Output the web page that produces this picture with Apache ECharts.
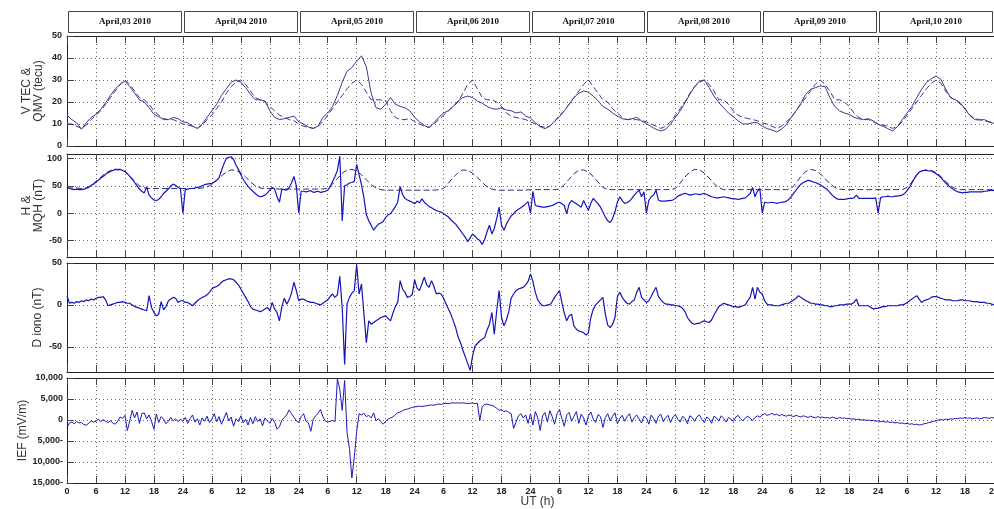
<!DOCTYPE html>
<html><head><meta charset="utf-8">
<script src="https://cdn.jsdelivr.net/npm/echarts@6/dist/echarts.min.js"></script>
<style>html,body{margin:0;padding:0;background:#fff}#c{width:994px;height:509px}</style>
</head><body><div id="c"></div>
<script>
// ---------- DATA ----------
const dayLabels = ['April,03 2010','April,04 2010','April,05 2010','April,06 2010','April,07 2010','April,08 2010','April,09 2010','April,10 2010'];
const tecTicks = [0,10,20,30,40,50];
const hTicks = [-50,0,50,100];
const dTicks = [-50,0,50];
const iefTicks = [-15000,-10000,-5000,0,5000,10000];

// hourly samples (h = 0..192)
const vtec = [
 14,12,10.5,7.6,10.6,13,14.4,16.7,19.7,23,26,28,29.5,27,24,21,20,17.4,14.4,13.3,12,12,13,12.4,
 11,10.6,9,8,10,13,16,19,23,26,29,30,29,26.5,23.5,21,21,20.5,16,13,12,12.4,13,13.6,
 11,10,8.6,8,9,13,15,18,23,29,34,35.6,38.6,41,36,24,17.4,16.7,19,22,19,18,17.4,16,
 13,11,9.4,8.3,10.6,13,15,16,18,20.5,22,22.7,22,20.5,19.4,18,17,16.7,17.4,16.4,16,15,15.5,13.6,
 12.7,10.6,8.8,7.9,9,11.4,13.3,16,19,22,24,25,24.5,22.7,20.5,18,16.7,15,13.6,12.4,12,12.4,13,11.4,
 10.2,8.8,7.6,6.8,7.6,10,13,16,19.7,23.5,27,29.5,30,26.5,22.7,19.7,17.4,15,13.3,11.4,10,10,10.6,10.6,
 9,7.9,7.3,6.4,7.6,9.8,12.9,16,19.4,23.5,25.8,26.5,27.3,27,22,18,16,15,14.4,13,12.4,12,12.4,11.4,
 9.8,9,7.9,6.8,8.8,12,15,18,22,25.8,28.8,30.6,31.8,30.3,25.8,22,21,19.7,16.7,13.9,12,11.8,12,10.9,
 10.3];
const qmv = [
 10,10,9,8,9.5,12,14,16,19,22,25,28,30,28,25,22,21,19,16,14,12.5,12,12,11,
 10,9.5,9,8,9.5,12,14,17,20,24,27,29,30,28,25,22,21,20,18,16,14,13,12,11.5,
 10,9,8.5,8,9,11,14,17,20,23,26,28.5,30,28,24.5,21,21,21,20.5,16,13,12,12,12.5,
 11,10,9,8.5,10,12,14,16,18,20,24,28,30,26,22,21,21,20,18,15,13.5,13,12.5,12,
 11,10,9,8.5,9,11,14,16,19,22,25,28,30,27,24,21,20,17,15,13,12,12,12,11.5,
 11,10,9,8,9,11,14,17,20,24,27,29,30,28,25,21,21,19,16,14,13,12.5,12,11.5,
 10.5,10,9,8,9,11,13,16,19,22,25,28,30,28,25,21,21,20,18,15,13,12,12,11,
 10,9.5,9,8,9,11,14,17,20,23,26,28.5,30,28.5,25,22,21,19,17,14,12.5,12,11.5,11,
 11];
const mqh = [
 46,46,46,45,46,50,58,66,73,78,80,80,76,68,58,50,46,45,45,45,45,45,45,45,
 45,45,45,45,46,48,52,60,68,75,79,78,74,66,57,50,46,45,45,45,44,44,44,44,
 44,44,44,44,44,44,46,53,63,73,79,80,77,70,61,52,46,43,42,42,42,42,42,42,
 42,42,42,42,42,43,45,55,65,74,79,78,73,65,56,48,44,42,42,42,42,42,42,42,
 43,43,43,43,43,43,44,52,62,72,78,79,75,67,57,47,43,43,43,43,43,43,43,43,
 43,43,43,43,43,43,45,55,66,75,80,79,73,64,54,46,43,43,43,43,43,43,43,43,
 43,43,43,43,43,43,45,55,67,76,80,78,72,63,54,47,44,43,43,43,43,43,43,43,
 43,43,43,43,43,43,47,57,70,77,79,78,74,67,58,50,45,43,43,43,43,43,43,43,
 43];

// half-hourly samples (h = 0, 0.5, ... 192)
const hComp = [
 48,45,44,43,44,43,43,44,45,47,51,53,57,60,64,67,71,74,76,78,80,79,80,78,76,72,67,62,56,50,44,40,37,48,33,28,24,23,25,30,36,40,44,50,53,51,47,45,
 0,43,44,45,45,46,47,48,50,52,53,54,54,57,60,65,78,90,100,102,103,98,88,80,70,62,55,49,44,40,36,32,30,31,33,37,42,47,44,30,20,44,43,42,47,55,67,50,
 0,40,40,39,40,41,38,39,40,38,39,40,42,48,58,67,78,104,-14,50,52,55,56,58,89,70,52,28,-3,-14,-22,-31,-25,-20,-18,-15,-8,-3,-1,5,12,20,49,34,27,24,22,20,
 17,22,19,26,20,16,12,10,7,5,3,2,-1,-4,-7,-12,-16,-20,-26,-32,-38,-44,-52,-45,-38,-42,-47,-50,-57,-48,-34,-22,-38,-28,-10,11,-22,-31,-20,-12,-5,-1,4,7,10,13,17,21,
 0,40,14,13,12,11,11,12,13,14,16,19,20,17,14,-1,17,23,20,17,14,11,23,14,5,18,27,22,17,11,2,-7,-14,-17,-10,3,20,30,23,18,19,22,27,33,38,42,30,39,
 0,23,30,33,42,24,22,22,22,23,23,24,27,31,33,35,36,35,33,34,35,35,34,35,36,34,32,30,29,28,28,29,30,29,28,27,26,26,25,26,27,28,32,36,47,30,40,45,
 0,20,19,19,20,19,18,19,20,20,22,25,30,36,42,48,53,56,58,60,59,57,56,54,52,49,46,43,38,33,29,26,25,25,25,26,27,27,28,33,27,27,27,27,27,27,27,28,
 0,28,30,30,31,30,30,31,31,32,33,36,41,47,55,63,70,75,77,78,78,77,77,75,72,69,65,60,55,51,47,44,41,39,38,37,38,38,39,39,39,39,39,39,40,40,41,42,
 41];
const dIono = [
 11,2,3,2,4,3,5,4,6,5,7,6,8,9,9,10,6,-1,0,1,2,3,3,4,3,2,2,0,-2,-3,-4,-5,-6,-7,11,-3,-9,-13,-11,4,-6,-2,5,7,9,8,3,5,
 5,3,3,1,-1,2,5,7,9,10,12,15,19,21,22,24,27,29,30,31,31,30,27,24,19,14,9,4,-2,-5,-6,-7,-8,-7,-5,-3,-7,3,-5,-9,-19,-2,8,1,6,14,27,17,
 5,7,7,5,4,3,3,2,1,0,2,4,6,10,13,9,12,34,-3,-71,1,9,14,17,48,13,25,-11,-45,-19,-23,-21,-19,-17,-15,-14,-13,-16,-19,-10,-2,3,29,19,15,9,10,12,
 30,20,17,25,33,24,21,29,22,13,14,13,8,1,-5,-11,-19,-27,-38,-45,-54,-62,-70,-78,-61,-49,-46,-43,-41,-39,-30,-23,-9,-35,-7,17,-15,-25,-18,-8,8,13,17,19,20,21,24,28,
 37,28,15,6,2,-1,-1,0,0,4,9,13,17,3,-10,-19,-13,-11,-25,-29,-31,-32,-33,-36,-33,-15,-5,0,3,6,9,-11,-24,-27,-23,-15,10,15,9,5,2,1,4,6,15,21,9,6,
 3,5,10,16,21,10,6,3,1,1,0,0,-1,-1,-2,-4,-8,-15,-19,-22,-23,-22,-22,-20,-19,-20,-21,-18,-12,-7,-2,0,2,1,0,-1,-2,-2,-3,-2,-1,0,5,9,21,7,21,15,
 13,5,1,0,0,-1,-1,-1,0,1,2,2,4,6,8,11,9,7,5,4,2,2,1,1,0,0,-1,-1,-2,-2,-1,-1,0,0,0,1,1,1,3,7,-1,-1,-1,-1,-1,-3,-5,-4,
 -4,-3,-2,-2,-1,-1,-1,-1,-1,0,0,1,3,5,7,9,11,7,3,5,6,7,9,10,10,9,8,7,6,6,6,5,5,5,6,6,5,5,5,4,4,4,3,3,3,2,2,1,
 0];
const ief = [
 -1800,-700,-500,-900,-400,-700,-600,-1100,-1200,-800,-200,-500,-300,200,-400,100,-300,-600,-200,-700,-1000,-300,700,400,1100,-2500,-200,2300,500,1900,-800,1500,1700,300,1200,-300,-2200,1400,-600,800,200,-900,-300,600,-200,300,-400,200,
 -300,600,-800,400,1200,-500,300,-1200,500,-300,900,-600,200,1500,-400,800,-1000,400,1800,-200,700,-1500,300,-400,1000,-700,200,-1200,600,-900,800,-400,300,-1400,500,-200,-800,400,-500,-2200,-1600,-100,600,1200,2400,1500,650,-200,
 -600,800,1500,-300,-700,-2700,200,1000,1600,2500,800,-200,-500,-300,-100,-400,9800,7300,2300,9400,-3000,-6800,-13800,-8900,-2700,1500,1200,1600,800,1100,500,1700,-200,300,-400,-1000,-300,200,500,700,1300,1700,1900,2200,2500,2600,2800,3000,
 3100,3200,3300,3200,3300,3400,3500,3600,3500,3700,3800,3700,3900,4000,3900,4000,4100,4000,4100,4000,4100,4000,3900,4000,4000,3900,4000,-100,3200,3700,3800,3600,3500,3200,2800,2300,2500,2000,2200,1800,1500,-2000,-500,1000,1500,500,1200,-800,
 1500,-1200,2000,500,-2500,1000,1800,-500,2200,800,-1000,1500,2500,300,-1500,1200,1800,-300,900,2000,-800,1400,500,-1200,1000,1900,200,-600,1300,800,-1800,600,1500,-200,900,1700,-900,400,1100,-300,800,1500,-500,600,1200,200,-700,900,
 500,-1000,1200,300,-800,900,1400,-400,600,1100,-600,700,1300,200,-500,900,400,-900,1000,600,-300,800,1200,100,-600,700,300,-800,900,500,-200,1000,400,-500,600,200,-300,700,1100,300,-200,500,900,400,-100,600,1000,700,
 1200,1500,1100,1300,1600,1200,1400,1000,1300,1100,900,1200,1000,800,1100,900,700,1000,800,600,900,700,500,800,600,700,500,600,400,700,500,300,600,400,500,300,400,200,300,100,200,0,100,-100,0,-200,-100,-300,
 -200,-400,-300,-500,-400,-600,-500,-700,-600,-800,-700,-900,-800,-1000,-900,-1100,-1000,-1200,-1100,-900,-800,-600,-500,-300,-200,0,100,0,200,100,300,200,400,300,500,400,600,400,500,300,400,500,300,400,600,500,400,600,
 500];

// ---------- CHART ----------
const hourlyPts = a => a.map((v, i) => [i, v]);
const halfPts = a => a.map((v, i) => [i / 2, v]);

const L = 67, R = 0;
const panels = [
  {top: 36, height: 110},
  {top: 154, height: 103},
  {top: 263, height: 109},
  {top: 378, height: 105}
];
const tickFont = {fontSize: 9, fontWeight: 'bold', fontFamily: 'Liberation Sans', color: '#222'};
const nameFont = {fontSize: 12, fontFamily: 'Liberation Sans', color: '#333', lineHeight: 12};
const gridLine = {show: true, lineStyle: {color: '#666', type: [1, 3], width: 1}};
const axisLineStyle = {show: true, onZero: false, lineStyle: {color: '#222', width: 1}};
const tickStyle = {show: true, inside: true, length: 7, lineStyle: {color: '#444', width: 1}};

const xLabel = v => v === 0 ? '0' : (v % 24 === 0 ? '24' : String(v % 24));

const grids = [{left: L, right: R, top: 11, height: 22, outerBoundsMode: 'none'}]
  .concat(panels.map(p => ({left: L, right: R, top: p.top, height: p.height, outerBoundsMode: 'none'})));

const xAxes = [{gridIndex: 0, type: 'value', min: 0, max: 192, show: false}];
for (let i = 1; i <= 4; i++) {
  xAxes.push({
    gridIndex: i, type: 'value', min: 0, max: 192, interval: 6, position: 'bottom',
    axisLine: axisLineStyle, axisTick: tickStyle, splitLine: gridLine,
    axisLabel: i === 4 ? Object.assign({show: true, margin: 4, formatter: xLabel, showMaxLabel: true}, tickFont) : {show: false},
    name: i === 4 ? 'UT (h)' : '', nameLocation: 'middle', nameGap: 13, nameMoveOverlap: false,
    nameTextStyle: Object.assign({}, nameFont, {padding: [0, 0, 0, 14]})
  });
}
for (let i = 1; i <= 4; i++) {
  xAxes.push({
    gridIndex: i, type: 'value', min: 0, max: 192, interval: 6, position: 'top',
    axisLine: axisLineStyle, axisTick: tickStyle, splitLine: {show: false}, axisLabel: {show: false}
  });
}

const iefFmt = v => {
  const s = Math.abs(v).toLocaleString('en-US');
  return v < 0 ? s + '-' : s;
};

const yName = (name, gap) => ({name, nameLocation: 'middle', nameRotate: 90, nameGap: gap, nameMoveOverlap: false, nameTextStyle: nameFont});

const yAxes = [
  {gridIndex: 0, type: 'value', min: 0, max: 1, show: false},
  Object.assign({gridIndex: 1, type: 'value', min: 0, max: 50, interval: 10,
   axisLine: axisLineStyle, axisTick: tickStyle, splitLine: gridLine,
   axisLabel: Object.assign({margin: 5}, tickFont)}, yName('V TEC &\nQMV (tecu)', 22)),
  Object.assign({gridIndex: 2, type: 'value', min: -80, max: 108,
   axisLine: axisLineStyle, axisTick: Object.assign({customValues: hTicks}, tickStyle), splitLine: gridLine,
   axisLabel: Object.assign({margin: 5, customValues: hTicks}, tickFont)}, yName('H &\nMQH (nT)', 22)),
  Object.assign({gridIndex: 3, type: 'value', min: -80, max: 50,
   axisLine: axisLineStyle, axisTick: Object.assign({customValues: dTicks}, tickStyle), splitLine: gridLine,
   axisLabel: Object.assign({margin: 5, customValues: dTicks}, tickFont)}, yName('D iono (nT)', 23)),
  Object.assign({gridIndex: 4, type: 'value', min: -15000, max: 10000, interval: 5000,
   axisLine: axisLineStyle, axisTick: tickStyle, splitLine: gridLine,
   axisLabel: Object.assign({margin: 4, formatter: iefFmt}, tickFont)}, yName('IEF (mV/m)', 38))
];

const lineS = (xi, yi, data, color, width, type) => ({
  type: 'line', xAxisIndex: xi, yAxisIndex: yi, data, showSymbol: false, symbol: 'none',
  lineStyle: {color, width, type: type || 'solid'}, silent: true, animation: false, z: 3
});

const series = [
  {
    type: 'custom', xAxisIndex: 0, yAxisIndex: 0, silent: true, animation: false,
    data: dayLabels.map((t, i) => [i * 24, i * 24 + 24]),
    renderItem(params, api) {
      const p0 = api.coord([api.value(0), 1]);
      const p1 = api.coord([api.value(1), 0]);
      const x0 = Math.round(p0[0]) + 1.5, x1 = Math.round(p1[0]) - 1.5;
      const y0 = Math.round(p0[1]) + 0.5, y1 = Math.round(p1[1]) - 0.5;
      return {type: 'group', children: [
        {type: 'rect', shape: {x: x0, y: y0, width: x1 - x0, height: y1 - y0},
         style: {fill: '#fff', stroke: '#444', lineWidth: 1}},
        {type: 'text', x: (x0 + x1) / 2, y: (y0 + y1) / 2,
         style: {text: dayLabels[params.dataIndex], align: 'center', verticalAlign: 'middle',
                 font: 'bold 9px "Liberation Serif"', fill: '#111'}}
      ]};
    }
  },
  lineS(1, 1, hourlyPts(qmv), '#3a3a8a', 1, [6, 3]),
  lineS(1, 1, hourlyPts(vtec), '#3a3a8a', 1),
  lineS(2, 2, hourlyPts(mqh), '#2a2a80', 1, [6, 3]),
  lineS(2, 2, halfPts(hComp), '#1414c0', 1.2),
  lineS(3, 3, halfPts(dIono), '#1414b4', 1.2),
  lineS(4, 4, halfPts(ief), '#1a1ab8', 1)
];

const chart = echarts.init(document.getElementById('c'), null, {renderer: 'canvas'});
chart.setOption({
  animation: false,
  backgroundColor: '#fff',
  grid: grids,
  xAxis: xAxes,
  yAxis: yAxes,
  series
});
</script>
</body></html>
